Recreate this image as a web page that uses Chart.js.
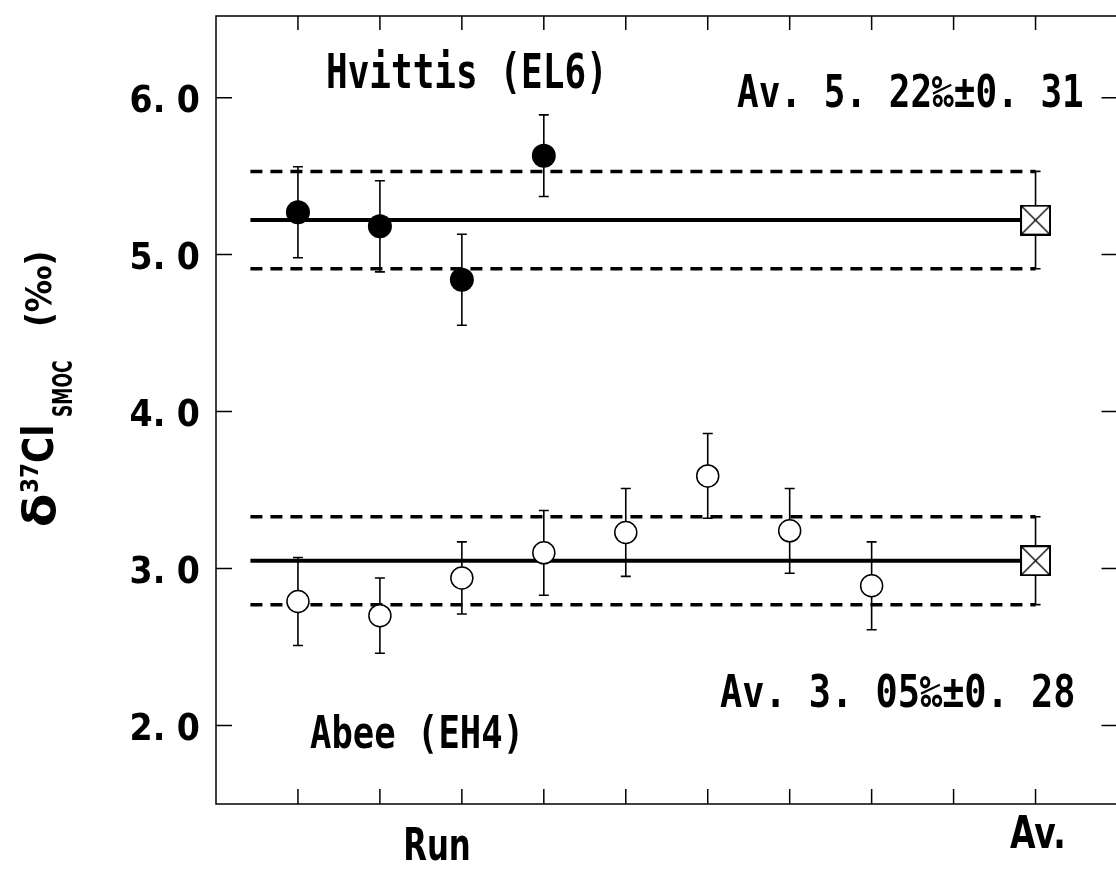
<!DOCTYPE html>
<html>
<head>
<meta charset="utf-8">
<script src="https://cdn.jsdelivr.net/npm/chart.js@4.4.1/dist/chart.umd.min.js"></script>
<style>
  html, body { margin: 0; padding: 0; background: #fff; overflow: hidden; }
  #wrap { width: 1116px; height: 882px; overflow: hidden; }
</style>
</head>
<body>
<div id="wrap"><canvas id="chlorineChart" width="1130" height="882"></canvas></div>
<script>
// δ37Cl (‰ vs SMOC) per run, with 1σ errors
const hvittisRuns = [1, 2, 3, 4];
const hvittisValues = [5.27, 5.18, 4.84, 5.63];
const hvittisErrors = [0.29, 0.29, 0.29, 0.26];

const abeeRuns = [1, 2, 3, 4, 5, 6, 7, 8];
const abeeValues = [2.79, 2.70, 2.94, 3.10, 3.23, 3.59, 3.24, 2.89];
const abeeErrors = [0.28, 0.24, 0.23, 0.27, 0.28, 0.27, 0.27, 0.28];

// averages: [mean, sd], plotted at the "Av." slot
const averageSlot = 10;
const hvittisAverage = [5.22, 0.31];
const abeeAverage = [3.05, 0.28];
const meanLineRange = [0.42, 10];

const xTicks = [1, 2, 3, 4, 5, 6, 7, 8, 9, 10];
const yTicks = [2, 3, 4, 5, 6];
const yTickLabels = ['2. 0', '3. 0', '4. 0', '5. 0', '6. 0'];

// "5.22" -> "5. 22" (wide period as in the figure lettering)
function fmt(v) {
  return v.toFixed(2).replace('.', '. ');
}

function averageLabel(avg) {
  return 'Av. ' + fmt(avg[0]) + '‰±' + fmt(avg[1]);
}

function toPoints(xs, ys) {
  return xs.map((x, i) => ({ x: x, y: ys[i] }));
}

function hLine(y) {
  return [{ x: meanLineRange[0], y: y }, { x: meanLineRange[1], y: y }];
}

// crossed square used for the average marker
const avBox = document.createElement('canvas');
avBox.width = 31;
avBox.height = 31;
(function () {
  const c = avBox.getContext('2d');
  c.fillStyle = '#fff';
  c.fillRect(1, 1, 29, 29);
  c.strokeStyle = '#000';
  c.lineWidth = 1.3;
  c.beginPath();
  c.moveTo(2, 2); c.lineTo(29, 29);
  c.moveTo(29, 2); c.lineTo(2, 29);
  c.stroke();
  c.lineWidth = 2;
  c.strokeRect(1, 1, 29, 29);
})();

function text(ctx, str, x, y, font, sx, align) {
  ctx.save();
  ctx.font = font;
  ctx.fillStyle = '#000';
  ctx.textBaseline = 'alphabetic';
  const w = ctx.measureText(str).width * sx;
  let x0 = x;
  if (align === 'right') x0 = x - w;
  if (align === 'center') x0 = x - w / 2;
  ctx.translate(x0, y);
  ctx.scale(sx, 1);
  ctx.fillText(str, 0, 0);
  ctx.restore();
}

const MONO = '"DejaVu Sans Mono", "Liberation Mono", monospace';
const SANS = '"DejaVu Sans", "Liberation Sans", sans-serif';

const errorBars = {
  id: 'errorBars',
  beforeDatasetsDraw(chart) {
    const { ctx, scales: { x, y } } = chart;
    const groups = [
      [hvittisRuns, hvittisValues, hvittisErrors],
      [abeeRuns, abeeValues, abeeErrors],
      [[averageSlot], [hvittisAverage[0]], [hvittisAverage[1]]],
      [[averageSlot], [abeeAverage[0]], [abeeAverage[1]]]
    ];
    ctx.save();
    ctx.strokeStyle = '#000';
    ctx.lineWidth = 1.6;
    groups.forEach(([xs, vs, es]) => {
      xs.forEach((xv, i) => {
        const px = x.getPixelForValue(xv);
        const top = y.getPixelForValue(vs[i] + es[i]);
        const bot = y.getPixelForValue(vs[i] - es[i]);
        ctx.beginPath();
        ctx.moveTo(px, top); ctx.lineTo(px, bot);
        ctx.moveTo(px - 5, top); ctx.lineTo(px + 5, top);
        ctx.moveTo(px - 5, bot); ctx.lineTo(px + 5, bot);
        ctx.stroke();
      });
    });
    ctx.restore();
  }
};

const frame = {
  id: 'frame',
  afterDraw(chart) {
    const { ctx, chartArea: a, scales: { x, y } } = chart;
    ctx.save();
    ctx.strokeStyle = '#000';
    ctx.lineWidth = 1.5;
    ctx.strokeRect(a.left, a.top, a.right - a.left, a.bottom - a.top);

    // inward ticks on all four sides
    ctx.beginPath();
    xTicks.forEach(v => {
      const px = x.getPixelForValue(v);
      ctx.moveTo(px, a.bottom); ctx.lineTo(px, a.bottom - 15);
      ctx.moveTo(px, a.top); ctx.lineTo(px, a.top + 14);
    });
    yTicks.forEach(v => {
      const py = y.getPixelForValue(v);
      ctx.moveTo(a.left, py); ctx.lineTo(a.left + 16, py);
      ctx.moveTo(a.right, py); ctx.lineTo(a.right - 16, py);
    });
    ctx.stroke();
    ctx.restore();

    yTicks.forEach((v, i) => {
      text(ctx, yTickLabels[i], 200, y.getPixelForValue(v) + 14, 'bold 38px ' + SANS, 0.875, 'right');
    });

    text(ctx, 'Run', 437, 860, 'bold 44px ' + SANS, 0.7, 'center');
    text(ctx, 'Av.', 1010, 848, 'bold 44px ' + SANS, 0.75, 'left');

    text(ctx, 'Hvittis (EL6)', 326, 88, 'bold 48px ' + MONO, 0.75, 'left');
    text(ctx, averageLabel(hvittisAverage), 737, 107, 'bold 45px ' + MONO, 0.8, 'left');
    text(ctx, 'Abee (EH4)', 310, 748, 'bold 45px ' + MONO, 0.79, 'left');
    text(ctx, averageLabel(abeeAverage), 720, 707, 'bold 45px ' + MONO, 0.82, 'left');

    // y axis title, rotated: δ37Cl with SMOC subscript, then (‰)
    ctx.save();
    ctx.translate(55, 527);
    ctx.rotate(-Math.PI / 2);
    text(ctx, 'δ', 0, 0, 'bold 44px ' + SANS, 1.1, 'left');
    text(ctx, '37', 34, -17, 'bold 24px ' + SANS, 0.9, 'left');
    text(ctx, 'Cl', 64, -2, 'bold 42px ' + SANS, 0.85, 'left');
    text(ctx, 'SMOC', 110, 17, 'bold 26px ' + SANS, 0.66, 'left');
    text(ctx, '(‰)', 200, -4, 'bold 36px ' + SANS, 0.9, 'left');
    ctx.restore();
  }
};

const solid = { borderColor: '#000', borderWidth: 4, pointRadius: 0, showLine: true, order: 2 };
const dashed = { borderColor: '#000', borderWidth: 3.5, borderDash: [12, 8], pointRadius: 0, showLine: true, order: 2 };

new Chart(document.getElementById('chlorineChart'), {
  type: 'scatter',
  data: {
    datasets: [
      {
        label: 'Hvittis (EL6)',
        data: toPoints(hvittisRuns, hvittisValues),
        pointRadius: 12,
        backgroundColor: '#000',
        borderColor: '#000',
        borderWidth: 0,
        order: 0
      },
      {
        label: 'Abee (EH4)',
        data: toPoints(abeeRuns, abeeValues),
        pointRadius: 11,
        backgroundColor: '#fff',
        borderColor: '#000',
        borderWidth: 1.5,
        order: 0
      },
      {
        label: 'Av.',
        data: [{ x: averageSlot, y: hvittisAverage[0] }, { x: averageSlot, y: abeeAverage[0] }],
        pointStyle: avBox,
        order: 0
      },
      Object.assign({ label: 'Hvittis mean', data: hLine(hvittisAverage[0]) }, solid),
      Object.assign({ label: 'Hvittis +1σ', data: hLine(hvittisAverage[0] + hvittisAverage[1]) }, dashed),
      Object.assign({ label: 'Hvittis -1σ', data: hLine(hvittisAverage[0] - hvittisAverage[1]) }, dashed),
      Object.assign({ label: 'Abee mean', data: hLine(abeeAverage[0]) }, solid),
      Object.assign({ label: 'Abee +1σ', data: hLine(abeeAverage[0] + abeeAverage[1]) }, dashed),
      Object.assign({ label: 'Abee -1σ', data: hLine(abeeAverage[0] - abeeAverage[1]) }, dashed)
    ]
  },
  options: {
    responsive: false,
    animation: false,
    events: [],
    layout: { padding: { left: 216, top: 16, right: 6, bottom: 78 } },
    plugins: { legend: { display: false }, tooltip: { enabled: false } },
    scales: {
      x: { type: 'linear', display: false, min: 0, max: 11 },
      y: { type: 'linear', display: false, min: 1.5, max: 6.52 }
    }
  },
  plugins: [errorBars, frame]
});
</script>
</body>
</html>
